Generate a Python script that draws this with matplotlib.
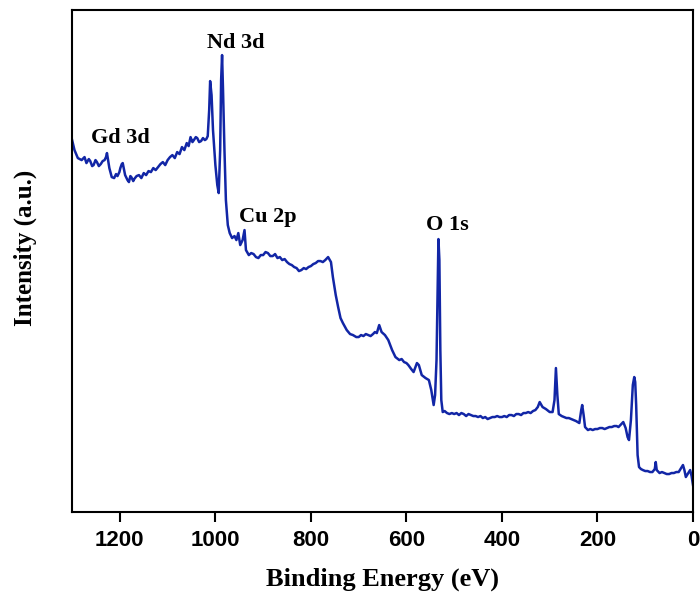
import matplotlib
matplotlib.use("Agg")
import matplotlib.pyplot as plt

# XPS survey spectrum (binding energy in eV, intensity in arbitrary units)
energy = [1300, 1295, 1288, 1280, 1274, 1270, 1265, 1262, 1258, 1255, 1251, 1248, 1244,
          1240, 1236, 1232, 1229, 1227, 1224, 1222, 1217, 1212, 1208, 1205, 1201,
          1199, 1196, 1194, 1191, 1189, 1184, 1181, 1178, 1176, 1172, 1170, 1165,
          1160, 1155, 1150, 1145, 1140, 1135, 1130, 1125, 1120, 1115, 1110, 1105,
          1100, 1095, 1090, 1085, 1080, 1075, 1070, 1065, 1060, 1056, 1052, 1048,
          1045, 1041, 1038, 1034, 1030, 1026, 1022, 1019, 1016, 1013, 1011, 1008,
          1005, 1000, 996, 993, 990, 988, 986, 984, 981, 978, 974, 970, 965, 960,
          956, 952, 948, 943, 939, 936, 930, 925, 920, 915, 910, 905, 900, 895,
          890, 885, 880, 875, 870, 865, 860, 855, 850, 845, 840, 835, 830, 825,
          820, 815, 810, 805, 800, 795, 790, 785, 780, 775, 770, 764, 758, 754,
          748, 743, 738, 733, 725, 718, 712, 705, 700, 695, 690, 685, 680, 675,
          670, 666, 662, 657, 652, 645, 638, 630, 623, 615, 610, 605, 600, 596,
          590, 585, 578, 574, 568, 560, 553, 548, 543, 540, 537, 535, 533, 531,
          529, 527, 524, 520, 515, 510, 505, 500, 495, 490, 485, 480, 475, 470,
          465, 460, 455, 450, 445, 440, 435, 430, 425, 420, 415, 410, 405, 400,
          395, 390, 385, 380, 375, 370, 365, 360, 355, 350, 345, 340, 335, 330,
          325, 321, 315, 308, 300, 294, 290, 287, 284, 281, 275, 270, 265, 260,
          255, 250, 245, 238, 234, 232, 229, 226, 220, 215, 210, 205, 200, 195,
          190, 185, 180, 175, 170, 165, 160, 156, 152, 146, 141, 137, 134, 130,
          126, 123, 121, 119, 116, 113, 109, 105, 100, 95, 90, 85, 80, 78, 76,
          70, 65, 60, 55, 50, 45, 40, 35, 30, 25, 21, 18, 15, 10, 6, 3, 0]
intensity = [372, 362, 354, 352, 355, 349, 353, 351, 346, 347, 352, 350, 346,
             348, 351, 352, 355, 359, 350, 344, 335, 334, 338, 336, 340,
             344, 348, 349, 342, 337, 332, 330, 336, 335, 331, 333, 336,
             337, 334, 339, 337, 341, 340, 344, 342, 345, 348, 350, 347,
             352, 355, 357, 354, 360, 358, 365, 362, 369, 366, 375, 370,
             372, 375, 374, 370, 371, 374, 372, 373, 376, 402, 431, 417,
             382, 347, 327, 319, 362, 432, 457, 422, 362, 312, 287, 279, 274, 276,
             272, 279, 267, 272, 282, 262, 257, 259, 258, 255, 254, 257, 257, 260,
             259, 256, 256, 258, 254, 255, 252, 253, 250, 248, 247, 245, 244, 241,
             242, 244, 243, 245, 246, 248, 249, 251, 251, 250, 252, 255, 250, 235,
             217, 205, 194, 189, 182, 178, 177, 175, 175, 177, 176, 178, 177, 176,
             178, 180, 179, 187, 180, 177, 172, 162, 155, 152, 153, 150, 149, 147,
             143, 140, 149, 147, 137, 134, 132, 122, 107, 117, 152, 212, 273, 252,
             162, 112, 100, 101, 99, 98, 99, 98, 99, 97, 99, 98, 96, 98,
             97, 96, 96, 95, 96, 94, 95, 93, 94, 95, 95, 96, 95, 95,
             96, 95, 97, 97, 96, 98, 98, 97, 99, 99, 100, 99, 101, 102,
             105, 110, 105, 103, 100, 100, 112, 144, 117, 98, 96, 95, 94, 94,
             93, 92, 91, 89, 102, 107, 97, 85, 82, 83, 82, 83, 83, 84,
             84, 83, 84, 85, 85, 86, 86, 85, 87, 90, 84, 75, 72, 92,
             127, 135, 130, 107, 57, 45, 43, 42, 41, 41, 40, 40, 43, 50, 42,
             39, 40, 39, 38, 38, 39, 39, 40, 40, 44, 47, 42, 35, 39, 42, 36, 27]

# Peak labels: (text, energy, intensity)
peak_labels = [("Gd 3d", 1198, 374), ("Nd 3d", 958, 469),
               ("Cu 2p", 890, 295), ("O 1s", 514, 287)]

xticks = [1200, 1000, 800, 600, 400, 200, 0]

fig = plt.figure(figsize=(7, 5.94), dpi=100)
ax = fig.add_axes([0.103, 0.138, 0.887, 0.845])

ax.plot(energy, intensity, color='#1226A6', linewidth=1.8)

for label, x, y in peak_labels:
    ax.text(x, y, label, ha='center', va='center', fontsize=16,
            fontweight='bold', family='Liberation Serif')

ax.set_xlim(1300, 0)
ax.set_ylim(0, 502)
ax.set_xticks(xticks)
ax.set_yticks([])
ax.tick_params(axis='x', direction='out', length=7, width=1.5, pad=6)
for lab in ax.get_xticklabels():
    lab.set_family(['Liberation Sans Narrow', 'Liberation Sans'])
    lab.set_fontweight('bold')
    lab.set_fontsize(16)
for sp in ax.spines.values():
    sp.set_linewidth(1.5)

ax.set_xlabel("Binding Energy (eV)", fontsize=19, fontweight='bold',
              family='Liberation Serif', labelpad=12)
ax.set_ylabel("Intensity (a.u.)", fontsize=18, fontweight='bold',
              family='Liberation Serif')
ax.yaxis.set_label_coords(-0.057, 0.527)

fig.savefig("out.png", dpi=100)
